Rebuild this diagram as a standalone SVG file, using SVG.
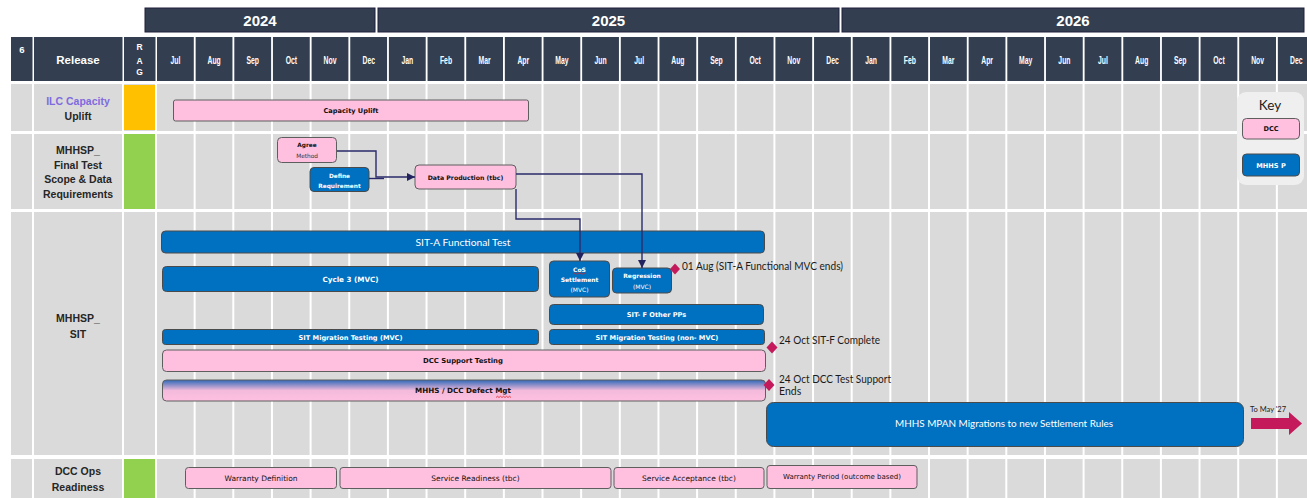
<svg xmlns="http://www.w3.org/2000/svg" width="1307" height="498" viewBox="0 0 1307 498">
<style>
.yr{fill:#333F50;stroke:#1E1E3A;stroke-width:1}
.hc{fill:#333F50}
.hw{fill:#fff;font-family:"Liberation Sans",Arial,sans-serif;font-weight:bold}
.row{fill:#DADADA}
.lbl{fill:#262626;font-family:"Liberation Sans",Arial,sans-serif;font-weight:bold;font-size:10.5px;text-anchor:middle}
.pink{fill:#FFC0E0;stroke:#5E5E5E;stroke-width:1}
.blue{fill:#0070C0;stroke:#4A4A4A;stroke-width:1}
.t{font-family:"DejaVu Sans",Verdana,sans-serif;font-weight:bold;font-size:6.6px;text-anchor:middle;fill:#111}
.tw{font-family:"DejaVu Sans",Verdana,sans-serif;font-weight:bold;font-size:6.6px;text-anchor:middle;fill:#fff}
.tn{font-family:"DejaVu Sans",Verdana,sans-serif;font-size:7.5px;text-anchor:middle;fill:#111}
.big{font-family:Lato,"Liberation Sans",sans-serif;font-size:10px;text-anchor:middle;fill:#fff}
.ms{font-family:Lato,"Liberation Sans",sans-serif;font-size:10.5px;fill:#1A1A1A}
.dia{fill:#C41A5C}
.con{fill:none;stroke:#2B2B6B;stroke-width:1.4}
.sq{fill:none;stroke:#E02020;stroke-width:0.8}
</style>
<defs>
<linearGradient id="gDef" x1="0" y1="0" x2="0" y2="1">
<stop offset="0" stop-color="#2F68B8"/>
<stop offset="0.5" stop-color="#F3BADB"/>
<stop offset="1" stop-color="#FFC0E0"/>
</linearGradient>
<marker id="arr" markerWidth="8" markerHeight="8" refX="8" refY="4" orient="auto" markerUnits="userSpaceOnUse">
<path d="M0,0 L8,4 L0,8 z" fill="#23235E"/>
</marker>
</defs>
<rect x="0" y="0" width="1307" height="498" fill="#fff"/>

<g id="years">
<rect class="yr" x="145" y="8" width="230" height="24"/>
<rect class="yr" x="378" y="8" width="461" height="24"/>
<rect class="yr" x="842" y="8" width="462" height="24"/>
<text class="hw" x="260" y="25.5" font-size="15" text-anchor="middle">2024</text>
<text class="hw" x="608.5" y="25.5" font-size="15" text-anchor="middle">2025</text>
<text class="hw" x="1073" y="25.5" font-size="15" text-anchor="middle">2026</text>
</g>

<g id="header-row">
<rect class="hc" x="11" y="37" width="21.5" height="44"/>
<rect class="hc" x="34" y="37" width="88.5" height="44"/>
<rect class="hc" x="124" y="37" width="31.5" height="44"/>
<text class="hw" x="22" y="53" font-size="9.5" text-anchor="middle">6</text>
<text class="hw" x="78" y="64" font-size="11.5" text-anchor="middle">Release</text>
<text class="hw" x="139.5" y="49.5" font-size="8.5" font-weight="normal" text-anchor="middle">R</text>
<text class="hw" x="139.5" y="63.5" font-size="8.5" font-weight="normal" text-anchor="middle">A</text>
<text class="hw" x="139.5" y="75" font-size="8.5" font-weight="normal" text-anchor="middle">G</text>
<rect class="hc" x="157" y="37" width="36.8" height="44"/>
<rect class="hc" x="195.65" y="37" width="36.8" height="44"/>
<rect class="hc" x="234.3" y="37" width="36.8" height="44"/>
<rect class="hc" x="272.95" y="37" width="36.8" height="44"/>
<rect class="hc" x="311.6" y="37" width="36.8" height="44"/>
<rect class="hc" x="350.25" y="37" width="36.8" height="44"/>
<rect class="hc" x="388.9" y="37" width="36.8" height="44"/>
<rect class="hc" x="427.55" y="37" width="36.8" height="44"/>
<rect class="hc" x="466.2" y="37" width="36.8" height="44"/>
<rect class="hc" x="504.85" y="37" width="36.8" height="44"/>
<rect class="hc" x="543.5" y="37" width="36.8" height="44"/>
<rect class="hc" x="582.15" y="37" width="36.8" height="44"/>
<rect class="hc" x="620.8" y="37" width="36.8" height="44"/>
<rect class="hc" x="659.45" y="37" width="36.8" height="44"/>
<rect class="hc" x="698.1" y="37" width="36.8" height="44"/>
<rect class="hc" x="736.75" y="37" width="36.8" height="44"/>
<rect class="hc" x="775.4" y="37" width="36.8" height="44"/>
<rect class="hc" x="814.05" y="37" width="36.8" height="44"/>
<rect class="hc" x="852.7" y="37" width="36.8" height="44"/>
<rect class="hc" x="891.35" y="37" width="36.8" height="44"/>
<rect class="hc" x="930" y="37" width="36.8" height="44"/>
<rect class="hc" x="968.65" y="37" width="36.8" height="44"/>
<rect class="hc" x="1007.3" y="37" width="36.8" height="44"/>
<rect class="hc" x="1045.95" y="37" width="36.8" height="44"/>
<rect class="hc" x="1084.6" y="37" width="36.8" height="44"/>
<rect class="hc" x="1123.25" y="37" width="36.8" height="44"/>
<rect class="hc" x="1161.9" y="37" width="36.8" height="44"/>
<rect class="hc" x="1200.55" y="37" width="36.8" height="44"/>
<rect class="hc" x="1239.2" y="37" width="36.8" height="44"/>
<rect class="hc" x="1277.85" y="37" width="36.8" height="44"/>
<g transform="scale(0.62 1)" class="hw" font-size="11" text-anchor="middle">
<text x="282.9" y="64">Jul</text>
<text x="345.3" y="64">Aug</text>
<text x="407.6" y="64">Sep</text>
<text x="470.0" y="64">Oct</text>
<text x="532.3" y="64">Nov</text>
<text x="594.7" y="64">Dec</text>
<text x="656.9" y="64">Jan</text>
<text x="719.4" y="64">Feb</text>
<text x="781.6" y="64">Mar</text>
<text x="844.0" y="64">Apr</text>
<text x="906.3" y="64">May</text>
<text x="968.7" y="64">Jun</text>
<text x="1031.0" y="64">Jul</text>
<text x="1093.4" y="64">Aug</text>
<text x="1155.6" y="64">Sep</text>
<text x="1218.1" y="64">Oct</text>
<text x="1280.3" y="64">Nov</text>
<text x="1342.7" y="64">Dec</text>
<text x="1405.0" y="64">Jan</text>
<text x="1467.4" y="64">Feb</text>
<text x="1529.7" y="64">Mar</text>
<text x="1592.1" y="64">Apr</text>
<text x="1654.4" y="64">May</text>
<text x="1716.8" y="64">Jun</text>
<text x="1779.0" y="64">Jul</text>
<text x="1841.5" y="64">Aug</text>
<text x="1903.7" y="64">Sep</text>
<text x="1966.1" y="64">Oct</text>
<text x="2028.4" y="64">Nov</text>
<text x="2090.8" y="64">Dec</text>
</g>
</g>

<g id="grid">
<rect class="row" x="11" y="84" width="1296" height="47"/>
<rect class="row" x="11" y="134" width="1296" height="75"/>
<rect class="row" x="11" y="212" width="1296" height="243"/>
<rect class="row" x="11" y="459" width="1296" height="39"/>
<path fill="none" stroke="#fff" stroke-width="2" d="M33,84V498 M123,84V498 M156,84V498 M194.65,84V498 M233.3,84V498 M271.95,84V498 M310.6,84V498 M349.25,84V498 M387.9,84V498 M426.55,84V498 M465.2,84V498 M503.85,84V498 M542.5,84V498 M581.15,84V498 M619.8,84V498 M658.45,84V498 M697.1,84V498 M735.75,84V498 M774.4,84V498 M813.05,84V498 M851.7,84V498 M890.35,84V498 M929,84V498 M967.65,84V498 M1006.3,84V498 M1044.95,84V498 M1083.6,84V498 M1122.25,84V498 M1160.9,84V498 M1199.55,84V498 M1238.2,84V498 M1276.85,84V498"/>
<rect x="124" y="85" width="31" height="45" fill="#FFC000"/>
<rect x="124" y="134" width="31" height="75" fill="#92D050"/>
<rect x="124" y="459" width="31" height="39" fill="#92D050"/>
</g>

<g id="row-ilc">
<text class="lbl" x="78" y="104.5" style="fill:#7E6BDF">ILC Capacity</text>
<text class="lbl" x="78" y="119.5">Uplift</text>
</g>
<g id="row-final-test">
<text class="lbl" x="78" y="154">MHHSP_</text>
<text class="lbl" x="78" y="168.5">Final Test</text>
<text class="lbl" x="78" y="183">Scope &amp; Data</text>
<text class="lbl" x="78" y="198">Requirements</text>
</g>
<g id="row-sit">
<text class="lbl" x="78" y="322">MHHSP_</text>
<text class="lbl" x="78" y="338">SIT</text>
</g>
<g id="row-dcc-ops">
<text class="lbl" x="78" y="475">DCC Ops</text>
<text class="lbl" x="78" y="491">Readiness</text>
</g>

<g id="capacity-uplift">
<rect class="pink" x="173.5" y="100" width="355" height="21" rx="2"/>
<text class="t" x="351" y="112.5">Capacity Uplift</text>
</g>
<g id="agree-method">
<rect class="pink" x="277.5" y="137.5" width="59" height="25" rx="4"/>
<text class="t" x="307" y="147" style="font-size:5.8px">Agree</text>
<text class="t" x="307" y="157.5" style="font-size:5.8px;font-weight:normal;fill:#333">Method</text>
</g>
<g id="define-requirement">
<rect class="blue" x="310" y="167.5" width="59" height="24" rx="4"/>
<text class="tw" x="339.5" y="177.5" style="font-size:5.8px">Define</text>
<text class="tw" x="339.5" y="188" style="font-size:5.8px">Requirement</text>
</g>
<g id="data-production">
<rect class="pink" x="415" y="165" width="101" height="24" rx="4"/>
<text class="t" x="465.5" y="179.5" style="font-size:6.2px">Data Production (tbc)</text>
</g>

<g id="sit-a">
<rect class="blue" x="161.5" y="231" width="603" height="22" rx="4"/>
<text class="big" x="463" y="245.5" font-size="10.5" textLength="95" lengthAdjust="spacingAndGlyphs">SIT-A Functional Test</text>
</g>
<g id="cycle-3">
<rect class="blue" x="162.5" y="266.5" width="376" height="25" rx="4"/>
<text class="tw" x="350.5" y="281.5" style="font-size:7.2px">Cycle 3 (MVC)</text>
</g>
<g id="cos-settlement">
<rect class="blue" x="549.5" y="261" width="60" height="36" rx="4"/>
<text class="tw" x="579.5" y="271.5" style="font-size:6px">CoS</text>
<path class="sq" d="M573.5,274 l1.5,-1.2 1.5,1.2 1.5,-1.2 1.5,1.2 1.5,-1.2 1.5,1.2 1.5,-1.2 1.5,1.2"/>
<text class="tw" x="579.5" y="281.5" style="font-size:6px">Settlement</text>
<text class="tw" x="579.5" y="291.5" style="font-size:6px;font-weight:normal">(MVC)</text>
</g>
<g id="regression">
<rect class="blue" x="612.5" y="268" width="59" height="25" rx="4"/>
<text class="tw" x="642" y="277.5" style="font-size:6px">Regression</text>
<text class="tw" x="642" y="288.5" style="font-size:6px;font-weight:normal">(MVC)</text>
</g>
<g id="sit-f-other">
<rect class="blue" x="549.5" y="304.5" width="214" height="20" rx="4"/>
<text class="tw" x="656.5" y="317">SIT- F Other PPs</text>
</g>
<g id="sit-migration-mvc">
<rect class="blue" x="162.5" y="329.5" width="376" height="15" rx="3"/>
<text class="tw" x="350.5" y="339.5">SIT Migration Testing (MVC)</text>
</g>
<g id="sit-migration-non-mvc">
<rect class="blue" x="549.5" y="329.5" width="215" height="15" rx="3"/>
<text class="tw" x="657" y="339.5">SIT Migration Testing (non- MVC)</text>
</g>
<g id="dcc-support-testing">
<rect class="pink" x="162.5" y="350" width="603" height="21.5" rx="4"/>
<text class="t" x="463" y="363" style="font-size:6.9px">DCC Support Testing</text>
</g>
<g id="defect-mgt">
<rect x="162.5" y="380" width="603" height="21" rx="4" fill="url(#gDef)" stroke="#5E5E5E" stroke-width="1"/>
<text class="t" x="463" y="393" style="font-size:7.2px">MHHS / DCC Defect Mgt</text>
<path class="sq" d="M496,397.5 l1.5,-1.2 1.5,1.2 1.5,-1.2 1.5,1.2 1.5,-1.2 1.5,1.2 1.5,-1.2 1.5,1.2 1.5,-1.2 1.5,1.2"/>
</g>
<g id="mpan-migrations">
<rect class="blue" x="766.5" y="402.5" width="477" height="44" rx="7"/>
<text class="big" x="1004" y="427" textLength="218" lengthAdjust="spacingAndGlyphs">MHHS MPAN Migrations to new Settlement Rules</text>
<polygon points="1251,418 1289,418 1289,412 1302,423.5 1289,435 1289,429 1251,429" fill="#C41A5C"/>
<text x="1250" y="412" font-family="Lato,'Liberation Sans',sans-serif" font-size="7.5" fill="#222">To May '27</text>
</g>

<g id="warranty-definition">
<rect class="pink" x="185.5" y="467.5" width="151" height="21" rx="3"/>
<text class="tn" x="261" y="480.5">Warranty Definition</text>
</g>
<g id="service-readiness">
<rect class="pink" x="340" y="467.5" width="271" height="21" rx="3"/>
<text class="tn" x="475.5" y="480.5">Service Readiness (tbc)</text>
</g>
<g id="service-acceptance">
<rect class="pink" x="614" y="467.5" width="150" height="21" rx="3"/>
<text class="tn" x="689" y="480.5">Service Acceptance (tbc)</text>
</g>
<g id="warranty-period">
<rect class="pink" x="767" y="465.5" width="150" height="23" rx="3"/>
<text class="tn" x="842" y="479" style="font-size:7px">Warranty Period (outcome based)</text>
</g>

<g id="connectors">
<path class="con" d="M337,151 H376 V177 H415" marker-end="url(#arr)"/>
<path class="con" d="M369,178.5 H384"/>
<path class="con" d="M516,174 H642 V268" marker-end="url(#arr)"/>
<path class="con" d="M516,189 V219 H580 V261" marker-end="url(#arr)"/>
</g>

<g id="milestones">
<polygon class="dia" points="675,263.5 680,269 675,274.5 670,269"/>
<text class="ms" x="682" y="270" textLength="161" lengthAdjust="spacingAndGlyphs">01 Aug (SIT-A Functional MVC ends)</text>
<polygon class="dia" points="772,341.5 777.5,347.5 772,353.5 766.5,347.5"/>
<text class="ms" x="779" y="344" textLength="101" lengthAdjust="spacingAndGlyphs">24 Oct SIT-F Complete</text>
<polygon class="dia" points="769,379 774.5,385 769,391 763.5,385"/>
<text class="ms" x="779" y="383" textLength="112" lengthAdjust="spacingAndGlyphs">24 Oct DCC Test Support</text>
<text class="ms" x="779" y="395">Ends</text>
</g>

<g id="key">
<rect x="1237" y="92" width="67" height="93" rx="9" fill="#EFEFEF"/>
<text x="1270" y="110" font-family="Lato,'Open Sans',sans-serif" font-size="13.5" text-anchor="middle" fill="#222">Key</text>
<rect class="pink" x="1242.5" y="118.5" width="57" height="20.5" rx="4"/>
<text class="t" x="1271" y="131">DCC</text>
<rect class="blue" x="1242.5" y="154" width="57" height="22" rx="4"/>
<text class="tw" x="1271" y="167.5">MHHS P</text>
</g>
</svg>
